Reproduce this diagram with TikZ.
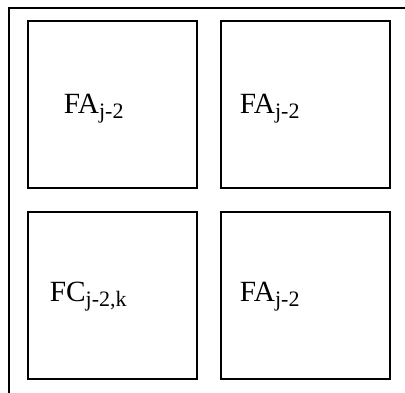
\documentclass[tikz,border=0pt]{standalone}
\usepackage{fontspec}
\setmainfont{Liberation Serif}
\newcommand{\lbl}[2]{{\fontsize{22}{26}\selectfont #1\raisebox{-3.8pt}{\fontsize{16.5}{20}\selectfont #2}}}
\begin{document}
\begin{tikzpicture}[x=0.75pt,y=-0.75pt,
  cell/.style={draw=black,line width=1.5pt,inner sep=0pt,minimum width=126.75pt,minimum height=125.25pt,anchor=north west},
  lab/.style={anchor=base west,inner sep=0pt},
  frame/.style={draw=black,line width=1.5pt}]
\useasboundingbox (0,0) rectangle (405,393);
\draw[frame] (9,393) -- (9,8) -- (405,8);
\node[cell] (b1) at (27,20) {};
\node[cell] (b2) at (220,20) {};
\node[cell] (b3) at (27,211) {};
\node[cell] (b4) at (220,211) {};
\node[lab] (t1) at (63.5,113) {\lbl{FA}{j-2}};
\node[lab] (t2) at (239.5,113) {\lbl{FA}{j-2}};
\node[lab] (t3) at (49.5,301) {\lbl{FC}{j-2,k}};
\node[lab] (t4) at (239.5,301) {\lbl{FA}{j-2}};
\end{tikzpicture}
\end{document}
